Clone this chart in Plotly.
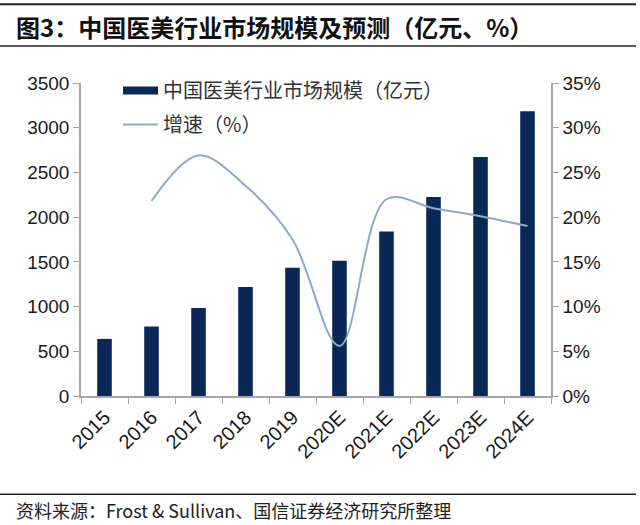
import plotly.graph_objects as go

categories = ["2015", "2016", "2017", "2018", "2019", "2020E", "2021E", "2022E", "2023E", "2024E"]
market_size = [638, 776, 984, 1219, 1434, 1512, 1839, 2226, 2673, 3183]
growth_pct = [None, 21.8, 26.9, 23.5, 17.5, 5.6, 22.0, 21.0, 20.1, 19.0]

bar_name = "中国医美行业市场规模（亿元）"
line_name = "增速（%）"
title_text = "<b>图3：中国医美行业市场规模及预测（亿元、%）</b>"
source_text = "资料来源：Frost & Sullivan、国信证券经济研究所整理"

FONT = "Liberation Sans, Arial, Noto Sans CJK SC, sans-serif"
CJK = "Noto Sans CJK SC, Liberation Sans, sans-serif"
AX = "#a6a6a6"
BAR_C = "#0a2856"
LINE_C = "#8fa9c9"

W, H = 640, 525
L, R, T, B = 81, 89, 83, 128.5
pw, ph = W - L - R, H - T - B


def px_x(x):
    return (x - L) / pw


def px_y(y):
    return (H - B - y) / ph


fig = go.Figure()
fig.add_trace(go.Bar(x=categories, y=market_size, name=bar_name, showlegend=False,
                     marker=dict(color=BAR_C, line=dict(width=0)), yaxis="y"))
# legend entry for the bars (wide swatch like the original)
fig.add_trace(go.Scatter(x=[None], y=[None], name=bar_name, mode="lines", legendgroup="a",
                         line=dict(color=BAR_C, width=8), yaxis="y"))
fig.add_trace(go.Scatter(x=categories, y=growth_pct, name=line_name, mode="lines", legendgroup="b",
                         line=dict(color=LINE_C, width=2, shape="spline", smoothing=1.0),
                         yaxis="y2", connectgaps=False))

fig.update_layout(
    width=W, height=H,
    margin=dict(l=L, r=R, t=T, b=B, autoexpand=False),
    plot_bgcolor="white", paper_bgcolor="white",
    font=dict(family=FONT, size=19, color="#1a1a1a"),
    bargap=0.69,
    showlegend=True,
    legend=dict(x=px_x(118), y=px_y(71), xanchor="left", yanchor="top",
                font=dict(family=CJK, size=20, color="#333333"),
                bgcolor="rgba(0,0,0,0)", itemwidth=35, tracegroupgap=5,
                traceorder="grouped"),
    xaxis=dict(type="category", showline=True, linecolor=AX, linewidth=1.5,
               ticks="outside", tickson="boundaries", ticklen=6, tickcolor=AX,
               tickangle=-45, tickfont=dict(size=20), showgrid=False),
    yaxis=dict(range=[0, 3500], dtick=500, showline=True, linecolor=AX, linewidth=1.5,
               ticks="outside", ticklen=6, tickcolor=AX, showgrid=False, zeroline=False,
               tickfont=dict(size=19)),
    yaxis2=dict(range=[0, 35], dtick=5, overlaying="y", side="right", ticksuffix="%",
                showline=True, linecolor=AX, linewidth=1.5, ticks="outside", ticklen=6,
                tickcolor=AX, showgrid=False, zeroline=False, tickfont=dict(size=19)),
    shapes=[
        dict(type="line", xref="paper", yref="paper", x0=px_x(0), x1=px_x(636),
             y0=px_y(4), y1=px_y(4), line=dict(color="#222", width=2)),
        dict(type="line", xref="paper", yref="paper", x0=px_x(0), x1=px_x(636),
             y0=px_y(46), y1=px_y(46), line=dict(color="#222", width=1.5)),
        dict(type="line", xref="paper", yref="paper", x0=px_x(0), x1=px_x(636),
             y0=px_y(495), y1=px_y(495), line=dict(color="#222", width=1.5)),
    ],
    annotations=[
        dict(text=title_text, xref="paper", yref="paper", x=px_x(14), y=px_y(26),
             xanchor="left", yanchor="middle", showarrow=False,
             font=dict(family=CJK, size=24, color="#111")),
        dict(text=source_text, xref="paper", yref="paper", x=px_x(14), y=px_y(511),
             xanchor="left", yanchor="middle", showarrow=False,
             font=dict(family=CJK, size=18, color="#222")),
    ],
)

fig.write_html("out.html", config={"displayModeBar": False},
               post_script="document.body.style.margin='0';")
